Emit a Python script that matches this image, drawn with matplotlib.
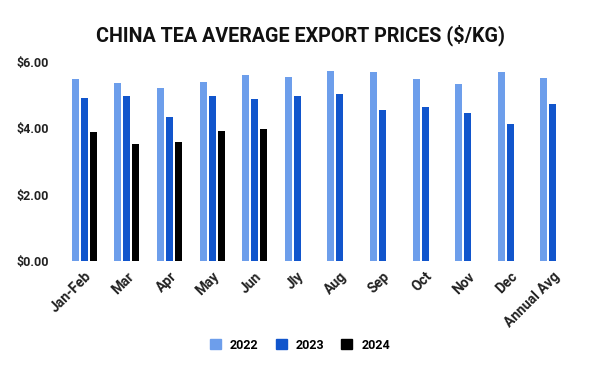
import numpy as np
import matplotlib
matplotlib.use("Agg")
import matplotlib.pyplot as plt
from matplotlib.patches import Patch

plt.rcParams["font.family"] = ["Roboto", "DejaVu Sans"]

categories = ["Jan-Feb", "Mar", "Apr", "May", "Jun", "Jly", "Aug", "Sep", "Oct", "Nov", "Dec", "Annual Avg"]
prices_2022 = [5.50, 5.38, 5.20, 5.41, 5.62, 5.56, 5.74, 5.71, 5.50, 5.35, 5.71, 5.53]
prices_2023 = [4.90, 4.96, 4.33, 4.96, 4.87, 4.96, 5.02, 4.54, 4.63, 4.45, 4.12, 4.72]
prices_2024 = [3.88, 3.54, 3.58, 3.91, 3.97]
years = ["2022", "2023", "2024"]
colors = ["#6d9eeb", "#1155cc", "#000000"]

fig = plt.figure(figsize = (6, 3.71), dpi = 100)
ax = fig.add_axes([0.105, 0.2965, 0.852, 0.5365])

x = np.arange(len(categories))
slot = 0.21
width = 0.165
series = [prices_2022, prices_2023, prices_2024]
for i, vals in enumerate(series) :
    xs = x[:len(vals)] + (i - 1) * slot
    ax.bar(xs, vals, width = width, color = colors[i], label = years[i])

ax.set_xlim(-0.5, len(categories) - 0.5)
ax.set_ylim(0, 6)
ax.set_yticks([0, 2, 4, 6])
ax.set_yticklabels(["$%.2f" % v for v in [0, 2, 4, 6]], fontsize = 9, fontweight = "bold", color = "#222222")
ax.set_xticks(x)
ax.set_xticklabels(categories, rotation = 45, ha = "right", rotation_mode = "anchor",
    fontsize = 10, fontweight = "bold", color = "#222222")
ax.tick_params(axis = "both", length = 0)
ax.tick_params(axis = "y", pad = 10)
ax.tick_params(axis = "x", pad = 6)
for s in ax.spines.values() :
    s.set_visible(False)

fig.suptitle("CHINA TEA AVERAGE EXPORT PRICES ($/KG)", x = 0.5, y = 0.935,
    fontsize = 14.2, fontweight = "bold", color = "#111111")

handles = [Patch(color = c, label = y) for c, y in zip(colors, years)]
fig.legend(handles = handles, loc = "center", bbox_to_anchor = (0.5, 0.07), ncol = 3,
    frameon = False, prop = {"weight": "bold", "size": 9}, handlelength = 0.88,
    handleheight = 0.88, columnspacing = 1.36, handletextpad = 0.72)

fig.savefig("out.png", dpi = 100)
